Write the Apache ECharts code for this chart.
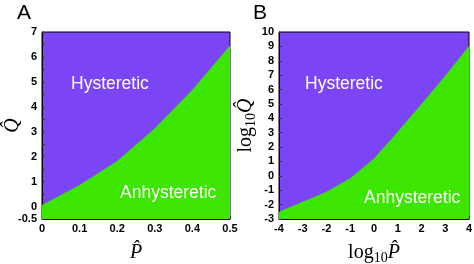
<!DOCTYPE html>
<html><head><meta charset="utf-8">
<script src="https://cdn.jsdelivr.net/npm/echarts@6/dist/echarts.min.js"></script>
<style>html,body{margin:0;padding:0;background:#fff}#c{width:474px;height:264px}</style>
</head><body><div id="c"></div>
<script>
const pA = [0, 0.1, 0.2, 0.3, 0.4, 0.5];
const qA = [0.06, 0.86, 1.83, 3.14, 4.68, 6.46];
const logPB = [-4, -3, -2, -1, 0, 1, 2, 3, 4];
const logQB = [-2.49, -1.8, -1.1, -0.17, 1.2, 3.06, 5.0, 6.96, 9.03];
const regionLabels = ['Hysteretic', 'Anhysteretic'];
const panelLabels = ['A', 'B'];

const PURPLE = '#7b45f5', GREEN = '#3ce600';
const SANS = '"Liberation Sans", Arial, sans-serif';
const SERIF = '"Liberation Serif", "Times New Roman", serif';
const lbl = {color: '#000', fontSize: 11, fontWeight: 'bold', fontFamily: SANS};
const chart = echarts.init(document.getElementById('c'));
const axBase = {axisLine: {show: true, onZero: false, lineStyle: {color: '#000'}}, splitLine: {show: false},
  axisTick: {inside: true, length: 3, lineStyle: {color: '#333'}}};
const richName = () => ({rich: {
  a: {fontFamily: SERIF, fontSize: 20, color: '#000'},
  b: {fontFamily: SERIF, fontSize: 14, color: '#000', padding: [10, 0, 0, 0]},
  c: {fontFamily: SERIF, fontStyle: 'italic', fontSize: 20, color: '#000'}}});
chart.setOption({
  animation: false,
  grid: [
    {left: 42, right: 244, top: 32, bottom: 45, show: true, backgroundColor: PURPLE, borderColor: '#000', borderWidth: 1, outerBoundsMode: 'none', containLabel: false},
    {left: 279, right: 5, top: 32, bottom: 45, show: true, backgroundColor: PURPLE, borderColor: '#000', borderWidth: 1, outerBoundsMode: 'none', containLabel: false}
  ],
  xAxis: [
    Object.assign({}, axBase, {type: 'value', gridIndex: 0, min: 0, max: 0.5, interval: 0.1,
      axisLabel: Object.assign({}, lbl, {margin: 4, formatter: v => String(+v.toFixed(1))}),
      name: 'P\u0302', nameLocation: 'middle', nameGap: 24,
      nameTextStyle: {fontFamily: SERIF, fontStyle: 'italic', fontSize: 20, color: '#000'}}),
    Object.assign({}, axBase, {type: 'value', gridIndex: 1, min: -4, max: 4, interval: 1,
      axisLabel: Object.assign({}, lbl, {margin: 4}),
      name: '{a|log}{b|10}{c|P\u0302}', nameLocation: 'middle', nameGap: 22,
      nameTextStyle: richName()})
  ],
  yAxis: [
    Object.assign({}, axBase, {type: 'value', gridIndex: 0, min: -0.5, max: 7, interval: 0.5,
      axisLabel: Object.assign({}, lbl, {margin: 5, formatter: v => (v === -0.5 || Number.isInteger(v)) ? String(v) : ''}),
      name: 'Q\u0302', nameLocation: 'middle', nameGap: 19, nameRotate: 90, nameMoveOverlap: false,
      nameTextStyle: {fontFamily: SERIF, fontStyle: 'italic', fontSize: 20, color: '#000'}}),
    Object.assign({}, axBase, {type: 'value', gridIndex: 1, min: -3, max: 10, interval: 1,
      axisLabel: Object.assign({}, lbl, {margin: 5}),
      name: '{a|log}{b|10}{c|Q\u0302}', nameLocation: 'middle', nameGap: 20, nameRotate: 90,
      nameTextStyle: richName()})
  ],
  series: [
    {type: 'line', xAxisIndex: 0, yAxisIndex: 0, data: pA.map((p, i) => [p, qA[i]]),
      symbol: 'none', lineStyle: {width: 0}, areaStyle: {color: GREEN, opacity: 1, origin: 'start'}},
    {type: 'line', xAxisIndex: 1, yAxisIndex: 1, data: logPB.map((p, i) => [p, logQB[i]]),
      symbol: 'none', lineStyle: {width: 0}, areaStyle: {color: GREEN, opacity: 1, origin: 'start'}}
  ],
  graphic: [
    {type: 'text', z: 100, left: 17, top: 3, style: {text: panelLabels[0], fontSize: 21, fontFamily: SANS, fill: '#000'}},
    {type: 'text', z: 100, left: 253, top: 3, style: {text: panelLabels[1], fontSize: 21, fontFamily: SANS, fill: '#000'}},
    {type: 'text', z: 100, left: 71, top: 75, style: {text: regionLabels[0], fontSize: 17.5, fontFamily: SANS, fill: '#fff'}},
    {type: 'text', z: 100, left: 120, top: 184, style: {text: regionLabels[1], fontSize: 17.5, fontFamily: SANS, fill: '#fff'}},
    {type: 'text', z: 100, left: 305, top: 75, style: {text: regionLabels[0], fontSize: 17.5, fontFamily: SANS, fill: '#fff'}},
    {type: 'text', z: 100, left: 364, top: 189, style: {text: regionLabels[1], fontSize: 17.5, fontFamily: SANS, fill: '#fff'}}
  ]
});
</script></body></html>
